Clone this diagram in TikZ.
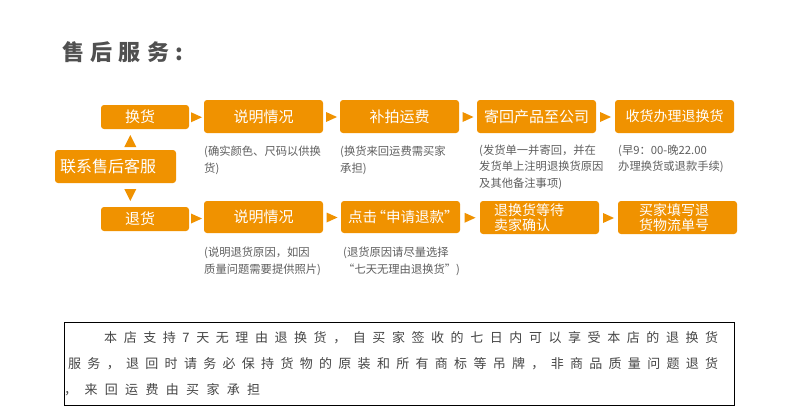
\documentclass[tikz,border=0pt]{standalone}
\usepackage{fontspec}
\newfontfamily\cjk{Noto Sans CJK SC}
\usetikzlibrary{calc}
\definecolor{orng}{RGB}{240,146,0}
\definecolor{notegray}{RGB}{95,95,95}
\definecolor{titlegray}{RGB}{80,80,80}
\definecolor{paragray}{RGB}{70,70,70}
\def\spr#1{#1\sprnext}
\def\sprnext#1{\ifx#1\relax\else\hfill#1\expandafter\sprnext\fi}
\newcommand\myopq{\makebox[9pt][r]{“}}
\newcommand\myclq{\makebox[9pt][l]{”}}
\tikzset{
  ob/.style={fill=orng, rounded corners=3pt, text=white, inner sep=0pt,
    font=\cjk\fontsize{15}{15}\selectfont, minimum width=119pt, minimum height=33pt},
  obs/.style={ob, minimum width=88pt, minimum height=24pt},
  ob2/.style={ob, font=\cjk\fontsize{14}{15}\selectfont, align=left},
  note/.style={anchor=north west, inner sep=0pt, align=left, text=notegray,
    font=\cjk\fontsize{11.3}{16.5}\selectfont},
  para/.style={anchor=west, inner sep=0pt, text=paragray, font=\cjk\fontsize{13}{13}\selectfont},
  rtri/.pic={\fill[orng] (-5.5,-5) -- (5.5,0) -- (-5.5,5) -- cycle;},
  utri/.pic={\fill[orng] (-6,6) -- (0,-6) -- (6,6) -- cycle;},
  dtri/.pic={\fill[orng] (-6,-6) -- (0,6) -- (6,-6) -- cycle;}
}
\begin{document}
\begin{tikzpicture}[x=1pt,y=-1pt]
\fill[white] (0,0) rectangle (790,420);
\useasboundingbox (0,0) rectangle (790,420);

% title
\node[anchor=west, inner sep=0pt, text=titlegray, font=\cjk\bfseries\fontsize{22}{22}\selectfont] (title) at (62,52.5)
  {\makebox[121pt][s]{\spr 售后服务:\relax}};

% boxes
\node[obs, align=left, inner xsep=24pt, text width=40pt] (hh) at (145,117) {换货};
\node[ob] (sm1) at (263.5,116.5) {说明情况};
\node[ob] (bp) at (399.5,116.5) {补拍运费};
\node[ob] (jh) at (536.5,116.5) {寄回产品至公司};
\node[ob, font=\cjk\fontsize{14}{14}\selectfont] (sh) at (674.5,116.5) {收货办理退换货};
\node[ob, font=\cjk\fontsize{16}{16}\selectfont, align=left, inner xsep=5pt, text width=111pt] (lx) at (115.5,166.5) {联系售后客服};
\node[obs, align=left, inner xsep=24pt, text width=40pt] (th) at (145,219) {退货};
\node[ob, minimum height=32pt] (sm2) at (263.5,217) {说明情况};
\node[ob, minimum height=32pt, font=\cjk\fontsize{14.5}{14.5}\selectfont] (dj) at (400.5,217) {点击\myopq 申请退款\myclq};
\node[ob2, inner xsep=14pt, text width=91pt] (dd) at (539.5,217.5) {退换货等待\\卖家确认};
\node[ob2, inner xsep=21pt, text width=77pt] (mj) at (677.5,217.5) {买家填写退\\货物流单号};

% connectors (arrow heads)
\path (hh.east) -- (sm1.west) coordinate[midway] (a1);
\path (sm1.east) -- (bp.west) coordinate[midway] (a2);
\path (bp.east) -- (jh.west) coordinate[midway] (a3);
\path (jh.east) -- (sh.west) coordinate[midway] (a4);
\path (th.east) -- (sm2.west) coordinate[midway] (b1);
\path (sm2.east) -- (dj.west) coordinate[midway] (b2);
\path (dj.east) -- (dd.west) coordinate[midway] (b3);
\path (dd.east) -- (mj.west) coordinate[midway] (b4);
\foreach \c in {a1,a2,a3,a4,b1,b2,b3,b4} \pic at ($(\c)+(0,0.5)$) {rtri};
\coordinate (u1) at ($(hh.south)!.5!(lx.north)+(0,1.5)$);
\coordinate (d1) at ($(lx.south)!.5!(th.north)$);
\pic at (u1) {utri};
\pic at (d1) {dtri};

% notes
\node[note] (n1) at (204,146) {(确实颜色、尺码以供换\\货)};
\node[note] (n2) at (340,146) {(换货来回运费需买家\\承担)};
\node[note] (n3) at (479,144.5) {(发货单一并寄回，并在\\发货单上注明退换货原因\\及其他备注事项)};
\node[note] (n4) at (618,144.5) {(早9：00-晚22.00\\办理换货或退款手续)};
\node[note] (n5) at (204,247) {(说明退货原因，如因\\质量问题需要提供照片)};
\node[note] (n6) at (343,247) {(退货原因请尽量选择\\“七天无理由退换货”)};

% policy box
\draw[black, line width=1pt] (64,322) rectangle (734,405);
\node[para] (p1) at (104,338) {\makebox[614pt][s]{\spr 本店支持7天无理由退换货，自买家签收的七日内可以享受本店的退换货\relax}};
\node[para] (p2) at (68,364) {\makebox[650pt][s]{\spr 服务，退回时请务必保持货物的原装和所有商标等吊牌，非商品质量问题退货\relax}};
\node[para] (p3) at (64,390) {\makebox[196pt][s]{\spr ，来回运费由买家承担\relax}};
\end{tikzpicture}
\end{document}
